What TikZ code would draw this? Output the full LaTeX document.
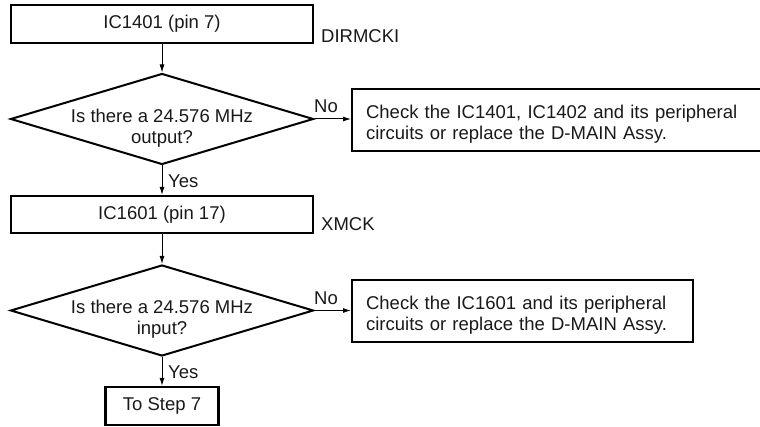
\documentclass[tikz,border=0pt]{standalone}
\usepackage{fontspec}
\setmainfont{Liberation Sans}
\usetikzlibrary{shapes.geometric,arrows.meta}
\newcommand{\topstrut}{\rule{0pt}{21.5pt}}
\begin{document}
\begin{tikzpicture}[x=1pt,y=-1pt,
  every node/.style={font=\fontsize{18.5}{21}\selectfont, text=black!90},
  box/.style={draw, line width=2.2pt, inner sep=0pt},
  wide/.style={box, anchor=west, minimum height=62pt, inner xsep=14pt, align=left},
  dia/.style={draw, diamond, line width=2pt, inner sep=0pt, minimum width=303pt, minimum height=91pt},
  dtext/.style={align=center, inner sep=0pt},
  lbl/.style={inner sep=0pt, anchor=base west},
  arr/.style={-{Latex[length=8pt,width=5pt]}, line width=1pt}]
\clip (0,0) rectangle (760,427);
% row 1
\node[box, minimum width=302pt, minimum height=38pt] (b1) at (162,24) {IC1401 (pin 7)};
\node[lbl] (n1) at (321,43) {DIRMCKI};
\node[dia] (d1) at (162,119) {};
\node[dtext] (t1) at (162,128) {Is there a 24.576 MHz\\output?};
\node[wide, text width=392pt] (b2) at (351,120) {\topstrut Check the IC1401, IC1402 and its peripheral\\circuits or replace the D-MAIN Assy.};
\node[lbl] (no1) at (314,113) {No};
\node[lbl] (y1) at (168,188) {Yes};
% row 2
\node[box, minimum width=302pt, minimum height=37pt] (b3) at (162,214.5) {IC1601 (pin 17)};
\node[lbl] (n2) at (321,231) {XMCK};
\node[dia] (d2) at (162,310.5) {};
\node[dtext] (t2) at (162,319.5) {Is there a 24.576 MHz\\input?};
\node[wide, text width=313pt] (b4) at (351,311) {\topstrut Check the IC1601 and its peripheral\\circuits or replace the D-MAIN Assy.};
\node[lbl] (no2) at (314,305) {No};
\node[lbl] (y2) at (168,378) {Yes};
\node[box, minimum width=113pt, minimum height=38pt] (b5) at (162,406) {To Step 7};
% connectors
\draw[arr] (b1.south) -- (d1.north);
\draw[arr] (d1.east) -- (d1.east -| b2.west);
\draw[arr] (d1.south) -- (b3.north);
\draw[arr] (b3.south) -- (d2.north);
\draw[arr] (d2.east) -- (d2.east -| b4.west);
\draw[arr] (d2.south) -- (b5.north);
\end{tikzpicture}
\end{document}
